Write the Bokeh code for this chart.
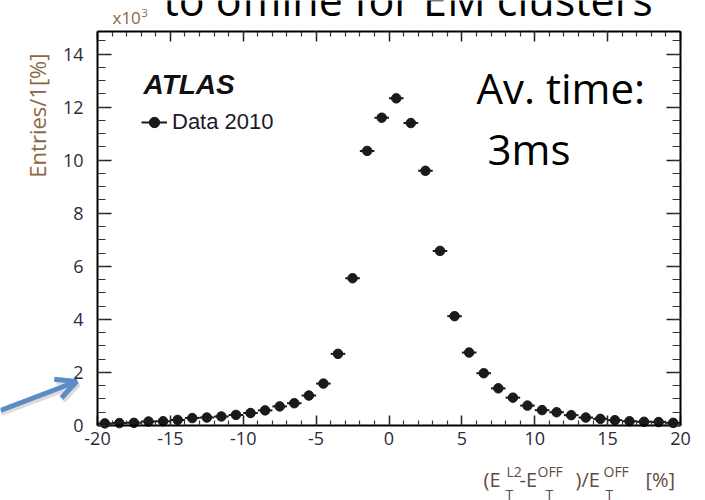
import math

from bokeh.embed import file_html
from bokeh.models import (Arrow, ColumnDataSource, Label, Legend, LegendItem,
                          LinearAxis, OpenHead, PrintfTickFormatter, Range1d,
                          SingleIntervalTicker)
from bokeh.plotting import figure
from bokeh.resources import INLINE

# ---- data: (E_T^L2 - E_T^OFF)/E_T^OFF in 1% bins, entries in thousands ----
bin_centers = [-19.5, -18.5, -17.5, -16.5, -15.5, -14.5, -13.5, -12.5, -11.5, -10.5,
               -9.5, -8.5, -7.5, -6.5, -5.5, -4.5, -3.5, -2.5, -1.5, -0.5,
               0.5, 1.5, 2.5, 3.5, 4.5, 5.5, 6.5, 7.5, 8.5, 9.5,
               10.5, 11.5, 12.5, 13.5, 14.5, 15.5, 16.5, 17.5, 18.5, 19.5]
entries_k = [0.08, 0.09, 0.10, 0.15, 0.16, 0.21, 0.28, 0.30, 0.34, 0.40,
             0.47, 0.57, 0.72, 0.84, 1.13, 1.58, 2.70, 5.55, 10.35, 11.60,
             12.33, 11.40, 9.60, 6.58, 4.12, 2.75, 1.97, 1.40, 1.05, 0.75,
             0.58, 0.50, 0.39, 0.30, 0.25, 0.20, 0.16, 0.14, 0.13, 0.10]
bin_half_width = 0.5

x_tick_step = 5
y_tick_step = 2

# ---- geometry: the histogram box sits inside a full-page drawing area ----
PAGE_W, PAGE_H = 705, 500
L, R, T, B = 97, 680, 31, 425          # box edges in page pixels
X0, X1 = -20, 20                        # histogram x extent
Y0, Y1 = 0, 14.85                       # histogram y extent (thousands)


def px_x(px):
    return X0 + (px - L) / (R - L) * (X1 - X0)


def px_y(py):
    return Y0 + (B - py) / (B - T) * (Y1 - Y0)


TICK_COLOR = "#2e2a38"
TITLE_COLOR = "#8b6742"
XTITLE_COLOR = "#5e4a46"

p = figure(frame_width=PAGE_W, frame_height=PAGE_H,
           min_border_left=0, min_border_right=0, min_border_top=0, min_border_bottom=0,
           x_range=Range1d(px_x(0), px_x(PAGE_W)), y_range=Range1d(px_y(PAGE_H), px_y(0)),
           x_axis_location=None, y_axis_location=None,
           output_backend="svg", toolbar_location=None)
p.background_fill_color = "white"
p.border_fill_color = "white"
p.outline_line_color = None
p.xgrid.visible = False
p.ygrid.visible = False


def make_axis(step, minor, fixed, bounds, tick_major, tick_minor, labels, standoff=8):
    ax = LinearAxis(ticker=SingleIntervalTicker(interval=step, num_minor_ticks=minor),
                    formatter=PrintfTickFormatter(format="%d"),
                    fixed_location=fixed, bounds=bounds)
    ax.axis_line_color = "black"
    ax.axis_line_width = 2
    ax.major_tick_in = tick_major
    ax.major_tick_out = 0
    ax.minor_tick_in = tick_minor
    ax.minor_tick_out = 0
    ax.major_tick_line_width = 1.5
    ax.minor_tick_line_width = 1.2
    ax.major_tick_line_color = "#222222"
    ax.minor_tick_line_color = "#333333"
    if labels:
        ax.major_label_text_font = "Open Sans"
        ax.major_label_text_font_size = "18px"
        ax.major_label_text_color = TICK_COLOR
        ax.major_label_standoff = standoff
    else:
        ax.major_label_text_color = None
    return ax


p.add_layout(make_axis(x_tick_step, 5, Y0, (X0, X1), 10, 5, True, standoff=6), "below")
p.add_layout(make_axis(y_tick_step, 4, X0, (Y0, Y1), 14, 8, True, standoff=14), "left")
p.add_layout(make_axis(x_tick_step, 5, Y1, (X0, X1), 10, 5, False), "above")
p.add_layout(make_axis(y_tick_step, 4, X1, (Y0, Y1), 14, 8, False), "right")

# ---- histogram points with bin-width bars ----
src = ColumnDataSource(dict(
    x=bin_centers,
    y=entries_k,
    xl=[c - bin_half_width for c in bin_centers],
    xr=[c + bin_half_width for c in bin_centers],
))
bars = p.segment(x0="xl", y0="y", x1="xr", y1="y", source=src,
                 line_color="#1a1a1a", line_width=2)
dots = p.scatter(x="x", y="y", source=src, marker="circle", size=9.5,
                 fill_color="#1a1a1a", line_color="#1a1a1a")
vbars = p.scatter(x="x", y="y", source=src, marker="dash", angle=math.pi / 2,
                  size=0, line_color="#1a1a1a", line_width=1.5)

legend = Legend(items=[LegendItem(label="Data 2010", renderers=[bars, vbars, dots])],
                location=(141, PAGE_H - 135), orientation="vertical",
                glyph_width=26, glyph_height=26, label_standoff=5,
                padding=0, margin=0, spacing=0,
                label_text_font="Liberation Sans", label_text_font_size="22px",
                label_text_color="#1a1a2a",
                border_line_color=None, background_fill_alpha=0)
p.add_layout(legend)


def put(text, px, py_base, size, font="Open Sans", color="black", **kw):
    """Place a text with its baseline at page pixel (px, py_base)."""
    lift = 0.4 * size  # renderer places 'alphabetic' text slightly low
    p.add_layout(Label(x=px_x(px), y=px_y(py_base - lift), text=text,
                       text_font=font, text_font_size=f"{size}px",
                       text_color=color, text_baseline="alphabetic", **kw))


# ---- texts inside the box ----
put("ATLAS", 143, 95, 28, font="Liberation Sans", color="#111111",
    text_font_style="bold italic")
put("Av. time:", 476, 104, 42)
put("3ms", 487, 165, 42)

# ---- slide title (second line) above the box ----
put("to offline for EM clusters", 163, 16, 43)

# ---- axis titles ----
put("x10", 112, 24, 17, color=TITLE_COLOR)
put("3", 141, 17, 11, color=TITLE_COLOR)
p.add_layout(Label(x=px_x(36), y=px_y(53), text="Entries/1[%]", angle=math.pi / 2,
                   text_font="Open Sans", text_font_size="22px",
                   text_color=TITLE_COLOR, text_align="right",
                   text_baseline="middle"))

xtitle_parts = [
    ("(E", 483, 487, 20),
    ("L2", 506, 477, 14),
    ("T", 505, 500, 14),
    ("-E", 519, 487, 20),
    ("OFF", 537, 477, 14),
    ("T", 545, 500, 14),
    (")/E", 575, 487, 20),
    ("OFF", 603, 477, 14),
    ("T", 605, 500, 14),
    ("[%]", 645, 487, 20),
]
for txt, px, py, size in xtitle_parts:
    put(txt, px, py, size, color=XTITLE_COLOR)

# ---- pointer arrow at the y axis, with a soft drop shadow ----
p.add_layout(Arrow(x_start=px_x(1), y_start=px_y(413), x_end=px_x(78), y_end=px_y(384),
                   line_color="#9a9a9a", line_alpha=0.35, line_width=5,
                   end=OpenHead(size=20, line_color="#9a9a9a", line_alpha=0.35,
                                line_width=5)))
p.add_layout(Arrow(x_start=px_x(0), y_start=px_y(410), x_end=px_x(76), y_end=px_y(381),
                   line_color="#5b8cc8", line_width=5,
                   end=OpenHead(size=20, line_color="#5b8cc8", line_width=5)))

open("out.html", "w").write(file_html(p, INLINE))
